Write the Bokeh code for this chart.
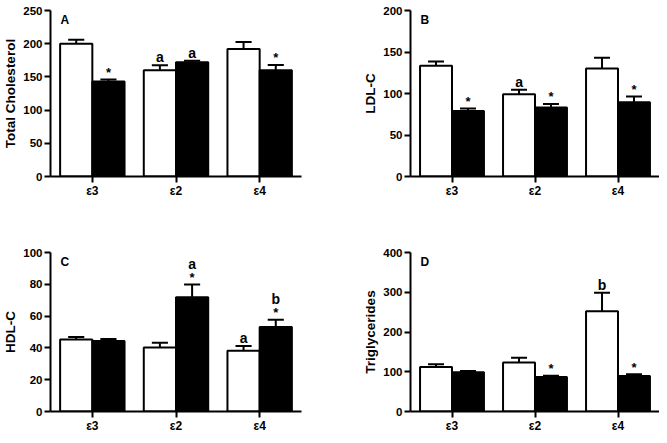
from bokeh.plotting import figure
from bokeh.layouts import column, row
from bokeh.models import Range1d, FixedTicker, ColumnDataSource
from bokeh.core.properties import value
from bokeh.embed import file_html
from bokeh.resources import INLINE

genotypes = ["ε3", "ε2", "ε4"]

# Panel A: Total Cholesterol
tc_white = [200, 160, 192]
tc_white_err = [6, 7.5, 10.5]
tc_black = [143, 172, 160]
tc_black_err = [3, 2.5, 8]
tc_white_star = ["", "", ""]
tc_white_letter = ["", "a", ""]
tc_black_star = ["*", "", "*"]
tc_black_letter = ["", "a", ""]

# Panel B: LDL-C
ldl_white = [133.5, 99, 130]
ldl_white_err = [5, 5.5, 13]
ldl_black = [79, 83, 89.5]
ldl_black_err = [3, 4.5, 7]
ldl_white_star = ["", "", ""]
ldl_white_letter = ["", "a", ""]
ldl_black_star = ["*", "*", "*"]
ldl_black_letter = ["", "", ""]

# Panel C: HDL-C
hdl_white = [45.3, 40.2, 38.2]
hdl_white_err = [1.6, 3, 3]
hdl_black = [44.3, 71.8, 53.1]
hdl_black_err = [1.3, 8, 4.6]
hdl_white_star = ["", "", ""]
hdl_white_letter = ["", "", "a"]
hdl_black_star = ["", "*", "*"]
hdl_black_letter = ["", "a", "b"]

# Panel D: Triglycerides
tg_white = [112, 123, 252]
tg_white_err = [7, 12, 47]
tg_black = [98.6, 87, 89.5]
tg_black_err = [3, 3, 4]
tg_white_star = ["", "", ""]
tg_white_letter = ["", "", "b"]
tg_black_star = ["", "*", "*"]
tg_black_letter = ["", "", ""]

FONT = "Liberation Sans"
BW = 0.385


def panel(title, ylabel, ymax, ystep, white, werr, black, berr,
          wstar, wlet, bstar, blet, width, height, bl, br, bt, bb):
    p = figure(width=width, height=height, output_backend="svg",
               toolbar_location=None, x_range=Range1d(0, 3),
               y_range=Range1d(0, ymax),
               min_border_left=bl, min_border_right=br,
               min_border_top=bt, min_border_bottom=bb)
    p.outline_line_color = None
    p.xgrid.visible = False
    p.ygrid.visible = False
    p.background_fill_color = "white"
    p.border_fill_color = "white"

    centers = [i + 0.5 for i in range(len(genotypes))]
    for vals, errs, stars, lets, side, fill in (
            (white, werr, wstar, wlet, -1, "white"),
            (black, berr, bstar, blet, 1, "black")):
        xs = [c + side * BW / 2 for c in centers]
        tops = [v + e for v, e in zip(vals, errs)]
        src = ColumnDataSource(dict(
            x=xs, top=vals, err_top=tops,
            cap0=[x - BW / 4 for x in xs], cap1=[x + BW / 4 for x in xs],
            star=stars, letter=lets,
            let_off=[(-21 if s else -8) for s in stars],
        ))
        p.segment(x0="x", y0="top", x1="x", y1="err_top", source=src,
                  line_color="black", line_width=2)
        p.segment(x0="cap0", y0="err_top", x1="cap1", y1="err_top",
                  source=src, line_color="black", line_width=2)
        p.vbar(x="x", width=BW, top="top", bottom=0, source=src,
               fill_color=fill, line_color="black", line_width=2)
        p.text(x="x", y="err_top", text="star", source=src,
               text_font=value(FONT), text_font_style="bold",
               text_font_size="13px", text_align="center",
               text_baseline="alphabetic", y_offset=-7)
        p.text(x="x", y="err_top", text="letter", source=src,
               text_font=value(FONT), text_font_style="bold",
               text_font_size="14px", text_align="center",
               text_baseline="alphabetic", y_offset="let_off")

    p.text(x=[0.12], y=[ymax], text=[title], text_font=value(FONT),
           text_font_style="bold", text_font_size="12px",
           text_align="left", text_baseline="top", y_offset=2)

    p.xaxis.ticker = FixedTicker(ticks=centers)
    p.xaxis.major_label_overrides = {c: g for c, g in zip(centers, genotypes)}
    p.yaxis.ticker = FixedTicker(ticks=list(range(0, ymax + 1, ystep)))
    p.yaxis.axis_label = ylabel
    for ax in (p.xaxis, p.yaxis):
        ax.axis_line_width = 2
        ax.axis_line_color = "black"
        ax.major_tick_line_width = 2
        ax.major_tick_line_color = "black"
        ax.major_tick_out = 6
        ax.major_tick_in = 0
        ax.minor_tick_line_color = None
        ax.major_label_text_font = FONT
        ax.major_label_text_font_style = "bold"
        ax.major_label_text_font_size = "11.5px"
        ax.major_label_text_color = "black"
        ax.axis_label_text_font = FONT
        ax.axis_label_text_font_style = "bold"
        ax.axis_label_text_font_size = "13.5px"
        ax.axis_label_text_color = "black"
    p.xaxis.major_label_text_font_size = "12px"
    p.yaxis.major_label_standoff = 2
    p.yaxis.axis_label_standoff = 2
    p.xaxis.major_label_standoff = 1
    return p


pa = panel("A", "Total Cholesterol", 250, 50, tc_white, tc_white_err,
           tc_black, tc_black_err, tc_white_star, tc_white_letter,
           tc_black_star, tc_black_letter, 330, 218, 46, 29, 10, 42)
pb = panel("B", "LDL-C", 200, 50, ldl_white, ldl_white_err,
           ldl_black, ldl_black_err, ldl_white_star, ldl_white_letter,
           ldl_black_star, ldl_black_letter, 329, 218, 80, 0, 10, 42)
pc = panel("C", "HDL-C", 100, 20, hdl_white, hdl_white_err,
           hdl_black, hdl_black_err, hdl_white_star, hdl_white_letter,
           hdl_black_star, hdl_black_letter, 330, 217, 46, 29, 34, 21)
pd = panel("D", "Triglycerides", 400, 100, tg_white, tg_white_err,
           tg_black, tg_black_err, tg_white_star, tg_white_letter,
           tg_black_star, tg_black_letter, 329, 217, 80, 0, 34, 21)

layout = column(row(pa, pb), row(pc, pd))
open("out.html", "w").write(file_html(layout, INLINE))
